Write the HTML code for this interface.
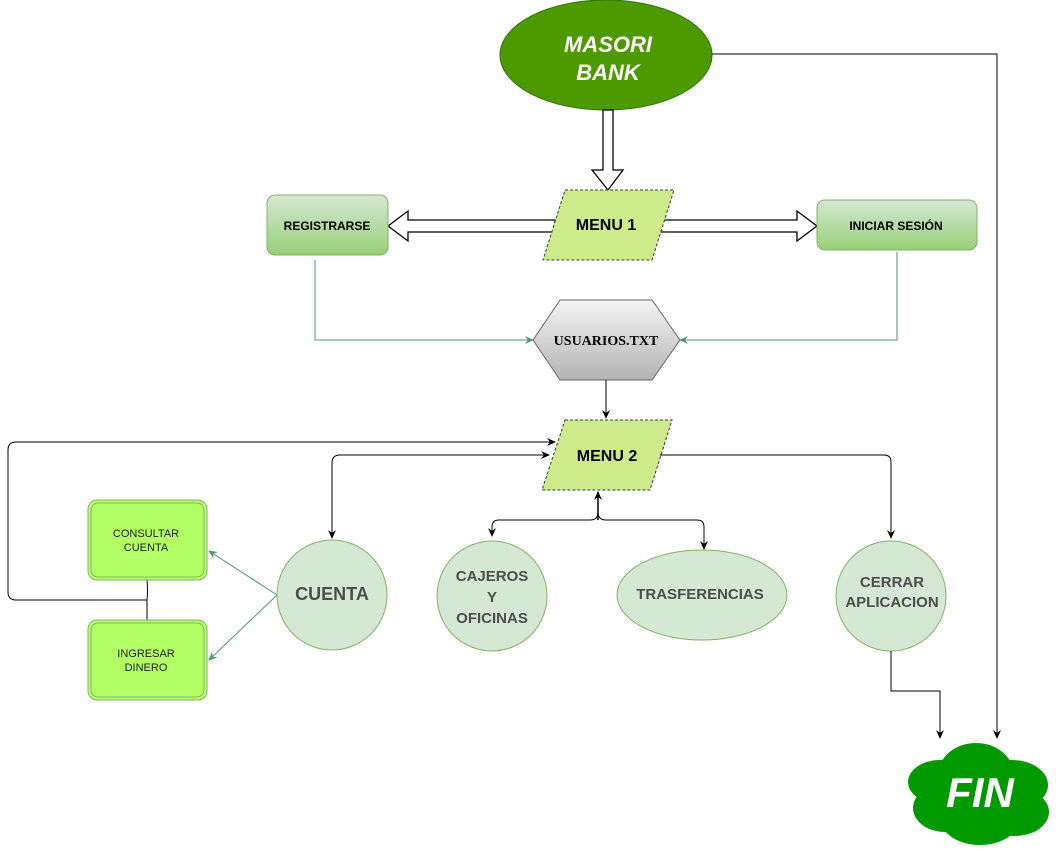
<!DOCTYPE html>
<html><head><meta charset="utf-8"><style>html,body{margin:0;padding:0;background:#fff;}svg{display:block;}</style></head>
<body>
<svg width="1058" height="852" viewBox="0 0 1058 852" xmlns="http://www.w3.org/2000/svg" font-family="Liberation Sans, Arial, sans-serif">
<defs>
<linearGradient id="g1" x1="0" y1="0" x2="0" y2="1"><stop offset="0" stop-color="#d5e8d4"/><stop offset="1" stop-color="#97d077"/></linearGradient>
<linearGradient id="g2" x1="0" y1="0" x2="0" y2="1"><stop offset="0" stop-color="#f5f5f5"/><stop offset="1" stop-color="#b3b3b3"/></linearGradient>
<marker id="ab" markerWidth="10" markerHeight="10" refX="8" refY="5" orient="auto" markerUnits="userSpaceOnUse"><path d="M0,1 L9,5 L0,9 L3,5 Z" fill="#000"/></marker>
<marker id="ag" markerWidth="10" markerHeight="10" refX="8" refY="5" orient="auto" markerUnits="userSpaceOnUse"><path d="M0,1 L9,5 L0,9 L3,5 Z" fill="#4f9a6e"/></marker>
</defs>

<!-- top ellipse -->
<ellipse cx="606" cy="55" rx="106" ry="55" fill="#4d9900" stroke="#2d7600"/>
<text x="608" y="52" fill="#fff" font-size="22" font-weight="bold" font-style="italic" text-anchor="middle">MASORI</text>
<text x="608" y="80" fill="#fff" font-size="22" font-weight="bold" font-style="italic" text-anchor="middle">BANK</text>

<!-- line to FIN -->
<path d="M712,54 H997 V738" fill="none" stroke="#000" stroke-width="1" marker-end="url(#ab)"/>

<!-- hollow down arrow -->
<path d="M603,110 H613 V170 H623 L608,190 L592,170 H603 Z" fill="#fff" stroke="#000" stroke-width="1.3"/>

<!-- hollow left/right arrows -->
<path d="M555,220 H408 V211 L388,226 L408,241 V232 H555 Z" fill="#fff" stroke="#000" stroke-width="1.3"/>
<path d="M661,220 H797 V211 L817,226 L797,241 V232 H661 Z" fill="#fff" stroke="#000" stroke-width="1.3"/>

<!-- MENU 1 -->
<polygon points="565,190 674,190 652,260 543,260" fill="#cdeb8b" stroke="#36393d" stroke-dasharray="3,2"/>
<text x="606" y="230" font-size="16" font-weight="bold" text-anchor="middle">MENU 1</text>

<!-- Registrarse / Iniciar -->
<rect x="267" y="195" width="121" height="60" rx="8" fill="url(#g1)" stroke="#82b366"/>
<text x="327" y="230" font-size="12" font-weight="bold" text-anchor="middle">REGISTRARSE</text>
<rect x="817" y="200" width="160" height="50" rx="8" fill="url(#g1)" stroke="#82b366"/>
<text x="896" y="230" font-size="12" font-weight="bold" text-anchor="middle">INICIAR SESIÓN</text>

<!-- green connectors to usuarios -->
<path d="M315,260 V340 H533" fill="none" stroke="#4f9a6e" marker-end="url(#ag)"/>
<path d="M897,252 V340 H680" fill="none" stroke="#4f9a6e" marker-end="url(#ag)"/>

<!-- hexagon -->
<polygon points="560,300 652,300 680,340 652,380 560,380 533,340" fill="url(#g2)" stroke="#666"/>
<text x="606" y="345" font-family="Liberation Serif, serif" font-size="14" font-weight="bold" text-anchor="middle">USUARIOS.TXT</text>

<path d="M606,380 V418" stroke="#000" marker-end="url(#ab)"/>

<!-- MENU 2 -->
<polygon points="565,420 672,420 650,490 542,490" fill="#cdeb8b" stroke="#36393d" stroke-dasharray="3,2"/>
<text x="607" y="461" font-size="16" font-weight="bold" text-anchor="middle">MENU 2</text>

<!-- loop -->
<path d="M147,580 Q148,592 147,600 H16 Q8,600 8,592 V450 Q8,442 16,442 H555" fill="none" stroke="#000" marker-end="url(#ab)"/>
<path d="M147,600 V620" stroke="#000"/>

<!-- cuenta bidirectional -->
<path d="M549,455 H340 Q332,455 332,463 V538" fill="none" stroke="#000" marker-end="url(#ab)"/>
<path d="M340,455 H549" fill="none" stroke="#000" marker-end="url(#ab)"/>

<!-- right to cerrar -->
<path d="M660,455 H884 Q891,455 891,462 V538" fill="none" stroke="#000" marker-end="url(#ab)"/>

<!-- bottom split -->
<path d="M598,520 V492" stroke="#000" stroke-width="1.5" marker-end="url(#ab)"/>
<path d="M598,512 Q598,520 590,520 H499 Q492,520 492,527 V536" fill="none" stroke="#000" marker-end="url(#ab)"/>
<path d="M598,512 Q598,520 606,520 H697 Q704,520 704,527 V549" fill="none" stroke="#000" marker-end="url(#ab)"/>

<!-- consultar/ingresar -->
<rect x="88" y="500" width="119" height="80" rx="9" fill="#b3ff66" stroke="#82b366"/>
<rect x="91" y="503" width="113" height="74" rx="7" fill="none" stroke="#82b366"/>
<text x="146" y="537" font-size="11" text-anchor="middle" fill="#222">CONSULTAR</text>
<text x="146" y="551" font-size="11" text-anchor="middle" fill="#222">CUENTA</text>
<rect x="88" y="620" width="119" height="80" rx="9" fill="#b3ff66" stroke="#82b366"/>
<rect x="91" y="623" width="113" height="74" rx="7" fill="none" stroke="#82b366"/>
<text x="146" y="657" font-size="11" text-anchor="middle" fill="#222">INGRESAR</text>
<text x="146" y="671" font-size="11" text-anchor="middle" fill="#222">DINERO</text>

<path d="M277,595 L209,551" stroke="#4f9a6e" fill="none" marker-end="url(#ag)"/>
<path d="M277,595 L209,660" stroke="#4f9a6e" fill="none" marker-end="url(#ag)"/>

<!-- circles -->
<circle cx="332" cy="595" r="55" fill="#d5e8d4" stroke="#82b366"/>
<text x="332" y="600" font-size="18" font-weight="bold" fill="#4d4d4d" text-anchor="middle">CUENTA</text>

<circle cx="492" cy="596" r="55" fill="#d5e8d4" stroke="#82b366"/>
<text x="492" y="581" font-size="15" font-weight="bold" fill="#4d4d4d" text-anchor="middle">CAJEROS</text>
<text x="492" y="602" font-size="15" font-weight="bold" fill="#4d4d4d" text-anchor="middle">Y</text>
<text x="492" y="623" font-size="15" font-weight="bold" fill="#4d4d4d" text-anchor="middle">OFICINAS</text>

<ellipse cx="702" cy="595" rx="85" ry="45" fill="#d5e8d4" stroke="#82b366"/>
<text x="700" y="599" font-size="15" font-weight="bold" fill="#4d4d4d" text-anchor="middle">TRASFERENCIAS</text>

<circle cx="891" cy="596" r="55" fill="#d5e8d4" stroke="#82b366"/>
<text x="892" y="587" font-size="15" font-weight="bold" fill="#4d4d4d" text-anchor="middle">CERRAR</text>
<text x="892" y="607" font-size="15" font-weight="bold" fill="#4d4d4d" text-anchor="middle">APLICACION</text>

<path d="M891,651 V691 H940 V738" fill="none" stroke="#000" marker-end="url(#ab)"/>

<!-- cloud -->
<g fill="#009900">
<ellipse cx="976" cy="775" rx="38" ry="32"/>
<ellipse cx="940" cy="782" rx="32" ry="22"/>
<ellipse cx="1012" cy="785" rx="36" ry="25"/>
<ellipse cx="945" cy="808" rx="32" ry="24"/>
<ellipse cx="1015" cy="812" rx="34" ry="24"/>
<ellipse cx="980" cy="818" rx="40" ry="27"/>
<ellipse cx="978" cy="795" rx="60" ry="35"/>
</g>
<text x="980" y="807" fill="#fff" font-size="42" font-weight="bold" font-style="italic" text-anchor="middle">FIN</text>
</svg>
</body></html>
